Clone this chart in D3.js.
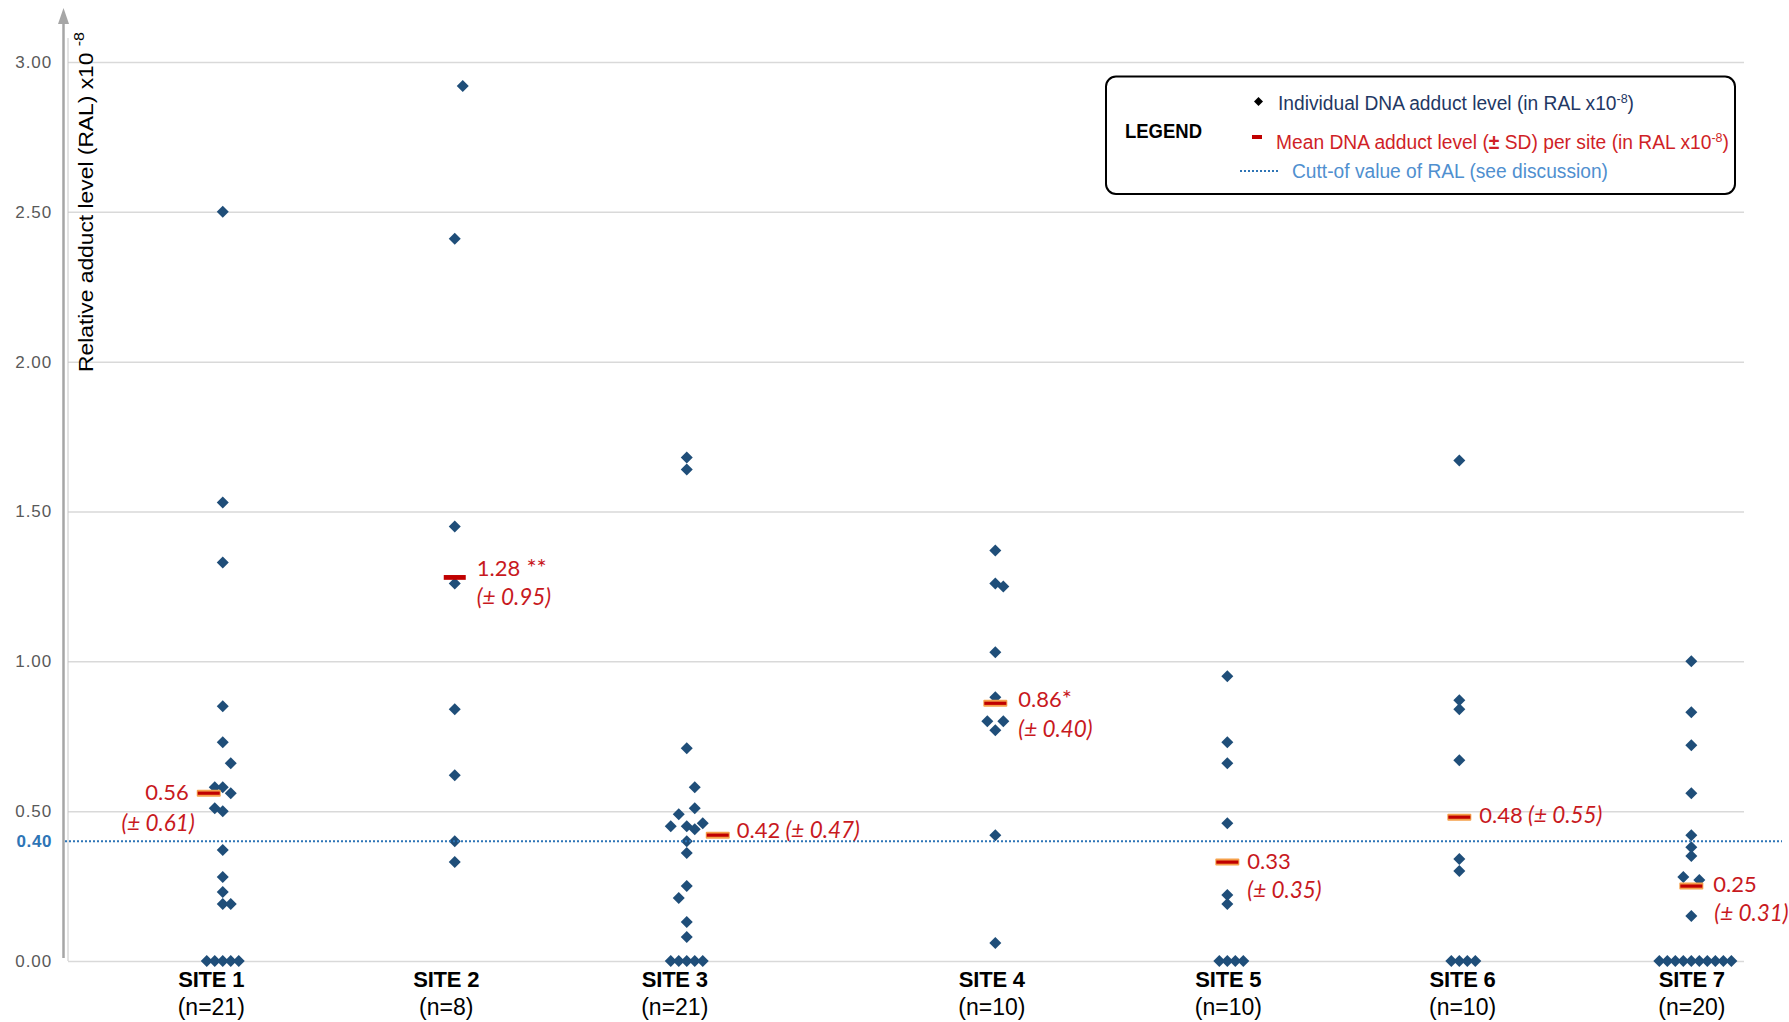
<!DOCTYPE html>
<html>
<head>
<meta charset="utf-8">
<script src="https://cdn.jsdelivr.net/npm/d3@7"></script>
<style>
  body { margin: 0; background: #fff; }
  svg { display: block; }
</style>
</head>
<body>
<svg id="chart" width="1789" height="1022"></svg>
<script>
// ---- Data -------------------------------------------------------------
const sites      = ["SITE 1", "SITE 2", "SITE 3", "SITE 4", "SITE 5", "SITE 6", "SITE 7"];
const siteCounts = ["(n=21)", "(n=8)", "(n=21)", "(n=10)", "(n=10)", "(n=10)", "(n=20)"];
// x value of each site in the scatter
const siteX      = [1, 2, 3, 4.33, 5.33, 6.33, 7.33];

// individual adduct levels (RAL x10-8) and the side-by-side slot used for ties
const site1Values = [2.50, 1.53, 1.33, 0.85, 0.73, 0.66, 0.58, 0.58, 0.56, 0.51, 0.50, 0.37, 0.28, 0.23, 0.19, 0.19, 0, 0, 0, 0, 0];
const site1Slots  = [0, 0, 0, 0, 0, 1, -1, 0, 1, -1, 0, 0, 0, 0, 0, 1, -2, -1, 0, 1, 2];
const site2Values = [2.92, 2.41, 1.45, 1.26, 0.84, 0.62, 0.40, 0.33];
const site2Slots  = [1, 0, 0, 0, 0, 0, 0, 0];
const site3Values = [1.68, 1.64, 0.71, 0.58, 0.51, 0.49, 0.46, 0.45, 0.45, 0.44, 0.40, 0.36, 0.25, 0.21, 0.13, 0.08, 0, 0, 0, 0, 0];
const site3Slots  = [0, 0, 0, 1, 1, -1, 2, -2, 0, 1, 0, 0, 0, -1, 0, 0, -2, -1, 0, 1, 2];
const site4Values = [1.37, 1.26, 1.25, 1.03, 0.88, 0.80, 0.80, 0.77, 0.42, 0.06];
const site4Slots  = [0, 0, 1, 0, 0, -1, 1, 0, 0, 0];
const site5Values = [0.95, 0.73, 0.66, 0.46, 0.22, 0.19, 0, 0, 0, 0];
const site5Slots  = [0, 0, 0, 0, 0, 0, -1, 0, 1, 2];
const site6Values = [1.67, 0.87, 0.84, 0.67, 0.34, 0.30, 0, 0, 0, 0];
const site6Slots  = [0, 0, 0, 0, 0, 0, -1, 0, 1, 2];
const site7Values = [1.00, 0.83, 0.72, 0.56, 0.42, 0.38, 0.35, 0.28, 0.27, 0.15, 0, 0, 0, 0, 0, 0, 0, 0, 0, 0];
const site7Slots  = [0, 0, 0, 0, 0, 0, 0, -1, 1, 0, -4, -3, -2, -1, 0, 1, 2, 3, 4, 5];

// mean (± SD) per site
const siteMeans = [0.56, 1.28, 0.42, 0.86, 0.33, 0.48, 0.25];
const siteSDs   = [0.61, 0.95, 0.47, 0.40, 0.35, 0.55, 0.31];
const siteSignif = ["", " **", "", "*", "", "", ""];

const cutoffValue = 0.40;
const yTicks = [0, 0.5, 1, 1.5, 2, 2.5, 3];

// ---- Layout -----------------------------------------------------------
const plot = { left: 68, right: 1744, top: 38, bottom: 961 };
const JITTER = 0.0345;          // one slot, in x units

const svg = d3.select("#chart");
const x = d3.scaleLinear().domain([0.333, 7.557]).range([plot.left, plot.right]);
const y = d3.scaleLinear().domain([0, 3]).range([plot.bottom, 62]);

const sitePoints = [
  [site1Values, site1Slots], [site2Values, site2Slots], [site3Values, site3Slots],
  [site4Values, site4Slots], [site5Values, site5Slots], [site6Values, site6Slots],
  [site7Values, site7Slots]
];
const points = sitePoints.flatMap(([vals, slots], i) =>
  vals.map((v, j) => ({ site: i, value: v, xv: siteX[i] + slots[j] * JITTER })));

const sans = "'Liberation Sans', Arial, sans-serif";

// ---- Grid and y axis --------------------------------------------------
const yAxis = d3.axisLeft(y)
  .tickValues(yTicks)
  .tickFormat(d3.format(".2f"))
  .tickSize(-(plot.right - plot.left))
  .tickPadding(16);

const gy = svg.append("g")
  .attr("transform", `translate(${plot.left},0)`)
  .call(yAxis);
gy.select(".domain").remove();
gy.selectAll(".tick line").attr("stroke", "#D9D9D9").attr("stroke-width", 1.5);
gy.selectAll(".tick text")
  .attr("fill", "#595959")
  .style("font-family", sans)
  .style("font-size", "17px")
  .style("letter-spacing", "0.9px");

// plot-area left edge
svg.append("line")
  .attr("x1", plot.left).attr("x2", plot.left)
  .attr("y1", plot.top).attr("y2", plot.bottom)
  .attr("stroke", "#C8C8C8").attr("stroke-width", 1);

// vertical arrow axis
svg.append("line")
  .attr("x1", 63.5).attr("x2", 63.5)
  .attr("y1", 22).attr("y2", 958)
  .attr("stroke", "#A6A6A6").attr("stroke-width", 2.5);
svg.append("path")
  .attr("d", "M63.5,8 L69,24 L58,24 Z")
  .attr("fill", "#A6A6A6");

// cut-off tick label
svg.append("text")
  .attr("x", 52).attr("y", y(cutoffValue))
  .attr("dy", "0.36em")
  .attr("text-anchor", "end")
  .attr("fill", "#2E75B6")
  .style("font-family", sans)
  .style("font-size", "17px")
  .style("font-weight", "bold")
  .style("letter-spacing", "0.6px")
  .text(d3.format(".2f")(cutoffValue));

// y axis title
const yTitle = svg.append("text")
  .attr("transform", "translate(92.5,372) rotate(-90)")
  .attr("textLength", 340).attr("lengthAdjust", "spacingAndGlyphs")
  .attr("fill", "#000")
  .style("font-family", sans)
  .style("font-size", "20px");
yTitle.append("tspan").text("Relative adduct level (RAL) x10 ");
yTitle.append("tspan").attr("dy", -9).style("font-size", "14px").text("-8");

// ---- x axis -----------------------------------------------------------
// horizontal nudge (px) of each site caption
const captionShift = [-12, -9, -12.5, -4, 0.5, 2.7, 0];
const xAxis = d3.axisBottom(x)
  .tickValues(siteX)
  .tickSize(0)
  .tickPadding(0)
  .tickFormat((d, i) => sites[i]);
const gx = svg.append("g")
  .attr("transform", `translate(0,${plot.bottom})`)
  .call(xAxis);
gx.select(".domain").remove();
gx.selectAll(".tick text").remove();
const tick = gx.selectAll(".tick");
tick.append("text")
  .attr("x", (d, i) => captionShift[i])
  .attr("y", 18).attr("dy", "0.36em")
  .attr("text-anchor", "middle")
  .attr("fill", "#000")
  .style("font-family", sans)
  .style("font-size", "22px")
  .style("font-weight", "bold")
  .style("letter-spacing", "-0.2px")
  .text((d, i) => sites[i]);
tick.append("text")
  .attr("x", (d, i) => captionShift[i])
  .attr("y", 46).attr("dy", "0.36em")
  .attr("text-anchor", "middle")
  .attr("fill", "#000")
  .style("font-family", sans)
  .style("font-size", "23px")
  .text((d, i) => siteCounts[i]);

// ---- individual points --------------------------------------------------
svg.append("g")
  .selectAll("path")
  .data(points)
  .join("path")
  .attr("transform", d => `translate(${x(d.xv)},${y(d.value)})`)
  .attr("d", "M0,-6L6,0L0,6L-6,0Z")
  .attr("fill", "#1F4E79");

// ---- cut-off line -------------------------------------------------------
svg.append("line")
  .attr("x1", 65).attr("x2", 1782)
  .attr("y1", y(cutoffValue)).attr("y2", y(cutoffValue))
  .attr("stroke", "#2E75B6").attr("stroke-width", 2)
  .attr("stroke-dasharray", "2 2");

// ---- means --------------------------------------------------------------
// bar shift (px) and label placement relative to each mean bar
const meanLayout = [
  { shift: -14, glow: true,  inline: false, anchor: "end",   vx: -34, vy: -1,   sx: -28, sy: 30 },
  { shift: 0,   glow: false, inline: false, anchor: "start", vx: 22,  vy: -9.5, sx: 22,  sy: 19 },
  { shift: 31,  glow: true,  inline: true,  anchor: "start", vx: 50,  vy: -5 },
  { shift: 0,   glow: true,  inline: false, anchor: "start", vx: 23,  vy: -4,   sx: 23,  sy: 26 },
  { shift: 0,   glow: true,  inline: false, anchor: "start", vx: 20,  vy: -1,   sx: 20,  sy: 28 },
  { shift: 0,   glow: true,  inline: true,  anchor: "start", vx: 20,  vy: -2 },
  { shift: 0,   glow: true,  inline: false, anchor: "start", vx: 22,  vy: -2,   sx: 23,  sy: 27 }
];

const red = "#C8191E";
const labelFont = "Lato, 'Open Sans', sans-serif";
const gm = svg.append("g");
siteMeans.forEach((m, i) => {
  const L = meanLayout[i];
  const cx = x(siteX[i]) + L.shift;
  const cy = y(m);
  if (L.glow) {
    gm.append("rect")
      .attr("x", cx - 12).attr("y", cy - 3.5)
      .attr("width", 24).attr("height", 7)
      .attr("rx", 1)
      .attr("fill", "#F5A04A");
    gm.append("rect")
      .attr("x", cx - 11).attr("y", cy - 1.6)
      .attr("width", 22).attr("height", 3.2)
      .attr("fill", "#C00000");
  } else {
    gm.append("rect")
      .attr("x", cx - 11).attr("y", cy - 2.4)
      .attr("width", 22).attr("height", 4.8)
      .attr("fill", "#C00000");
  }

  const baseX = x(siteX[i]);
  const vText = gm.append("text")
    .attr("x", baseX + L.vx).attr("y", cy + L.vy)
    .attr("dy", "0.36em")
    .attr("text-anchor", L.anchor)
    .attr("fill", red)
    .style("font-family", labelFont)
    .style("font-size", "22px");
  vText.append("tspan").text(d3.format(".2f")(m));
  if (siteSignif[i]) {
    vText.append("tspan").style("font-size", "24px").text(siteSignif[i]);
  }
  const sdStr = `(± ${d3.format(".2f")(siteSDs[i])})`;
  if (L.inline) {
    vText.append("tspan")
      .style("font-style", "italic")
      .style("font-size", "22.5px")
      .text(" " + sdStr);
  } else {
    gm.append("text")
      .attr("x", baseX + L.sx).attr("y", cy + L.sy)
      .attr("dy", "0.36em")
      .attr("text-anchor", L.anchor)
      .attr("fill", red)
      .style("font-family", labelFont)
      .style("font-size", "22.5px")
      .style("font-style", "italic")
      .text(sdStr);
  }
});

// ---- legend -------------------------------------------------------------
const lg = svg.append("g");
lg.append("rect")
  .attr("x", 1106).attr("y", 76.5)
  .attr("width", 629).attr("height", 117.5)
  .attr("rx", 10)
  .attr("fill", "#fff")
  .attr("stroke", "#000").attr("stroke-width", 2);

const narrow = "'Liberation Sans Narrow', 'Arial Narrow', 'Liberation Sans', sans-serif";
lg.append("text")
  .attr("x", 1125).attr("y", 131).attr("dy", "0.36em")
  .attr("textLength", 77).attr("lengthAdjust", "spacingAndGlyphs")
  .attr("fill", "#000")
  .style("font-family", narrow).style("font-size", "20px").style("font-weight", "bold")
  .text("LEGEND");

lg.append("path")
  .attr("transform", "translate(1258.5,101.5)")
  .attr("d", "M0,-4.5L4.5,0L0,4.5L-4.5,0Z")
  .attr("fill", "#000");
const l1 = lg.append("text")
  .attr("x", 1278).attr("y", 102.5).attr("dy", "0.36em")
  .attr("textLength", 356).attr("lengthAdjust", "spacingAndGlyphs")
  .attr("fill", "#1F3864")
  .style("font-family", narrow).style("font-size", "20px");
l1.append("tspan").text("Individual  DNA adduct level (in RAL x10");
l1.append("tspan").attr("dy", -7).style("font-size", "13px").text("-8");
l1.append("tspan").attr("dy", 7).text(")");

lg.append("rect")
  .attr("x", 1252).attr("y", 135).attr("width", 10).attr("height", 4)
  .attr("fill", "#C00000");
const l2 = lg.append("text")
  .attr("x", 1276).attr("y", 141.5).attr("dy", "0.36em")
  .attr("textLength", 453).attr("lengthAdjust", "spacingAndGlyphs")
  .attr("fill", "#D01F27")
  .style("font-family", narrow).style("font-size", "20px");
l2.append("tspan").text("Mean DNA adduct level (");
l2.append("tspan").style("font-weight", "bold").text("±");
l2.append("tspan").text(" SD) per site (in RAL x10");
l2.append("tspan").attr("dy", -7).style("font-size", "13px").text("-8");
l2.append("tspan").attr("dy", 7).text(")");

lg.append("line")
  .attr("x1", 1240).attr("x2", 1280).attr("y1", 171).attr("y2", 171)
  .attr("stroke", "#2E75B6").attr("stroke-width", 2)
  .attr("stroke-dasharray", "2 2");
lg.append("text")
  .attr("x", 1292).attr("y", 171).attr("dy", "0.36em")
  .attr("textLength", 316).attr("lengthAdjust", "spacingAndGlyphs")
  .attr("fill", "#4F8FCF")
  .style("font-family", narrow).style("font-size", "20px")
  .text("Cutt-of value of RAL (see discussion)");
</script>
</body>
</html>
